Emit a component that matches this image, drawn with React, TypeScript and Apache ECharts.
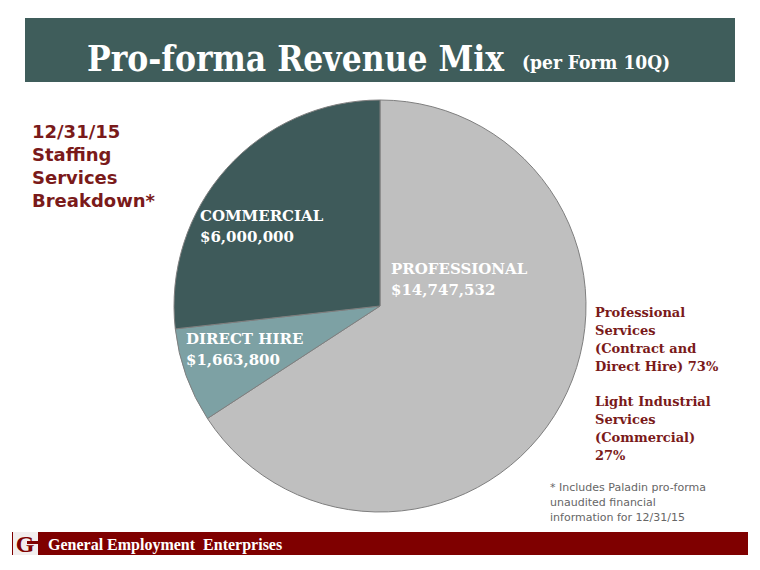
import React, { useEffect, useRef } from "react";
import * as echarts from "echarts";

const categories = ["PROFESSIONAL", "DIRECT HIRE", "COMMERCIAL"];
const values = [14747532, 1663800, 6000000];
const valueLabels = ["$14,747,532", "$1,663,800", "$6,000,000"];
const sliceColors = ["#BFBFBF", "#7DA1A4", "#3E5A5A"];
const leftNote = ["12/31/15", "Staffing", "Services", "Breakdown*"];
const rightNote1 = ["Professional", "Services", "(Contract and", "Direct Hire) 73%"];
const rightNote2 = ["Light Industrial", "Services", "(Commercial)", "27%"];
const footNote = ["* Includes Paladin pro-forma", "unaudited financial", "information for 12/31/15"];

const labelPos: Record<number, [number, number]> = {
  0: [391, 258],
  1: [186, 328],
  2: [200, 205],
};

export default function App() {
  const ref = useRef<HTMLDivElement>(null);
  useEffect(() => {
    document.body.style.margin = "0";
    const chart = echarts.init(ref.current!, null, { renderer: "svg" });
    const serif = "'DejaVu Serif', Georgia, serif";
    const condSerif = "'DejaVu Serif Condensed', 'DejaVu Serif', serif";
    const red = "#7A1A1A";
    chart.setOption({
      animation: false,
      backgroundColor: "#FFFFFF",
      graphic: [
        { type: "rect", shape: { x: 25, y: 18, width: 710, height: 64 }, style: { fill: "#3F5D5B" } },
        {
          type: "text",
          x: 87,
          y: 58,
          style: {
            text: "Pro-forma Revenue Mix",
            fill: "#FFFFFF",
            font: `bold 35px ${condSerif}`,
            verticalAlign: "middle",
          },
        },
        {
          type: "text",
          x: 522,
          y: 62,
          style: {
            text: "(per Form 10Q)",
            fill: "#FFFFFF",
            font: `bold 19px ${condSerif}`,
            verticalAlign: "middle",
          },
        },
        ...leftNote.map((t, i) => ({
          type: "text",
          x: 32,
          y: 131 + i * 23,
          style: { text: t, fill: red, font: "bold 18px 'DejaVu Sans', sans-serif", verticalAlign: "middle" },
        })),
        ...rightNote1.map((t, i) => ({
          type: "text",
          x: 595,
          y: 312 + i * 18,
          style: { text: t, fill: red, font: `bold 13px ${serif}`, verticalAlign: "middle" },
        })),
        ...rightNote2.map((t, i) => ({
          type: "text",
          x: 595,
          y: 401 + i * 18,
          style: { text: t, fill: red, font: `bold 13px ${serif}`, verticalAlign: "middle" },
        })),
        ...footNote.map((t, i) => ({
          type: "text",
          x: 550,
          y: 487 + i * 15,
          style: { text: t, fill: "#666666", font: "11px 'DejaVu Sans', sans-serif", verticalAlign: "middle" },
        })),
        { type: "rect", shape: { x: 12, y: 532, width: 736, height: 23 }, style: { fill: "#7F0000" } },
        { type: "rect", shape: { x: 13, y: 532, width: 25, height: 23 }, style: { fill: "#F2EEEE" } },
        {
          type: "text",
          x: 25,
          y: 544,
          style: { text: "G", fill: "#7F0000", font: "bold 24px 'Liberation Serif', serif", align: "center", verticalAlign: "middle" },
        },
        { type: "rect", shape: { x: 27, y: 541, width: 11, height: 3 }, style: { fill: "#7F0000" } },
        {
          type: "text",
          x: 48,
          y: 544,
          style: {
            text: "General Employment  Enterprises",
            fill: "#FFFFFF",
            font: "bold 16px 'Liberation Serif', serif",
            verticalAlign: "middle",
          },
        },
      ],
      series: [
        {
          type: "pie",
          center: [380, 306],
          radius: 206,
          startAngle: 90,
          clockwise: true,
          silent: true,
          itemStyle: { borderColor: "#7F7F7F", borderWidth: 1 },
          label: {
            show: true,
            position: "inside",
            formatter: (p: any) => `${p.name}\n${valueLabels[p.dataIndex]}`,
            color: "#FFFFFF",
            fontFamily: serif,
            fontWeight: "bold",
            fontSize: 15,
            lineHeight: 21,
            align: "left",
          },
          labelLine: { show: false },
          labelLayout: (params: any) => {
            const pos = labelPos[params.dataIndex];
            return { x: pos[0], y: pos[1], align: "left", verticalAlign: "top" };
          },
          data: categories.map((c, i) => ({
            name: c,
            value: values[i],
            itemStyle: { color: sliceColors[i] },
          })),
        },
      ],
    });
    return () => chart.dispose();
  }, []);
  return <div ref={ref} style={{ width: 760, height: 570 }} />;
}
